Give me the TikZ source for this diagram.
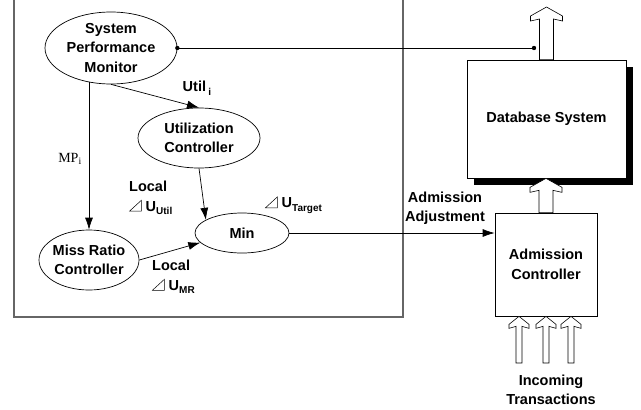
\documentclass[tikz,border=0pt]{standalone}
\usepackage{fontspec}
\setmainfont{Liberation Sans}
\newfontfamily\serifface{Liberation Serif}
\usetikzlibrary{shapes.geometric,arrows.meta,shadows,calc}

\newcommand\lblfont{\bfseries\fontsize{14.5}{19.5}\selectfont}
\newcommand\sbs[1]{\raisebox{-3.5pt}{\fontsize{10}{10}\selectfont #1}}
% small right triangle used as a delta sign
\newcommand\rtri{\tikz[x=1pt,y=1pt,baseline=0pt]\draw[line width=0.5pt,black,line join=miter] (0,0)--(12,0)--(12,11)--cycle;\hspace{4pt}}
% hollow block arrow: base, tip, shaft half width, head half width,
% drop to head corner, drop to head bottom, drop to shaft join
\newcommand\hollowarrow[7]{%
  \draw[hollow] let \p1=#1, \p2=#2 in
    (\x1-#3,\y1) -- (\x1-#3,\y2-#7) -- (\x1-#4,\y2-#6) -- (\x1-#4,\y2-#5) --
    (\x1,\y2) -- (\x1+#4,\y2-#5) -- (\x1+#4,\y2-#6) -- (\x1+#3,\y2-#7) --
    (\x1+#3,\y1) -- cycle;}

\tikzset{
  ell/.style={draw, ellipse, inner sep=-2pt, align=center, line width=0.7pt, font=\lblfont},
  blk/.style={draw, rectangle, inner sep=0pt, align=center, line width=0.7pt, font=\lblfont, fill=white},
  conn/.style={line width=0.7pt, -{Latex[length=12pt,width=8pt]}},
  plainline/.style={line width=0.7pt},
  hollow/.style={draw, fill=white, line width=0.6pt, line join=miter},
  frame/.style={draw=black!60, line width=1.1pt},
  lbl/.style={font=\lblfont, inner sep=0pt},
}

\begin{document}
\begin{tikzpicture}[x=1pt,y=-1pt]
\useasboundingbox (0,0) rectangle (641,410);

% controller enclosure (open at the top)
\draw[frame] (14,0) -- (14,317) -- (403,317) -- (403,0);

% controllers
\node[ell, minimum width=132pt, minimum height=72pt] (spm) at (111,48) {System\\Performance\\Monitor};
\node[ell, minimum width=122pt, minimum height=60pt] (uc) at (199,138) {Utilization\\Controller};
\node[ell, minimum width=94pt, minimum height=40pt] (min) at (242,233) {Min};
\node[ell, minimum width=100pt, minimum height=60pt] (mrc) at (89,260) {Miss Ratio\\Controller};

% system blocks
\node[blk, minimum width=159pt, minimum height=118pt,
      drop shadow={shadow xshift=7pt, shadow yshift=-7pt, fill=black, opacity=1}] (db) at (546.5,119) {Database System};
\node[blk, minimum width=102pt, minimum height=103pt] (adm) at (546,264.5) {Admission\\Controller};

% labels
\node[lbl] (lutili) at (197,88) {Util\,\sbs{i}};
\node[font=\serifface\fontsize{14}{14}\selectfont, inner sep=0pt] (lmp) at (70,159) {MP\textsubscript{i}};
\node[lbl, anchor=west, align=left] (lutil) at (129,198) {Local\\\rtri U\sbs{Util}};
\node[lbl, anchor=west, align=left] (lmr) at (152,277) {Local\\\rtri U\sbs{MR}};
\node[lbl, anchor=west] (ltarget) at (265,205) {\rtri U\sbs{Target}};
\node[lbl, align=center] (ladj) at (445,208) {Admission\\Adjustment};
\node[lbl, align=center] (lin) at (551,390) {Incoming\\Transactions};

% signal connectors
\draw[conn] (spm.south) -- (uc.north);
\draw[conn] ($(mrc.north |- spm.south)+(0,-2)$) -- (mrc.north);
\draw[conn] (uc.south) -- (min.160);
\draw[conn] (mrc.east) -- (min.193);
\draw[conn] (min.east) -- (min.east -| adm.west);

% monitoring tap on the output
\coordinate (tap) at (534,48);
\draw[plainline] (spm.east) -- (tap);
\fill (spm.east) circle (2.2pt);
\fill (tap) circle (2.2pt);

% transaction flow
\coordinate (exit) at (546,7);
\coordinate (in1) at (519,363);
\coordinate (in2) at (546,363);
\coordinate (in3) at (571,363);
\hollowarrow{(db.north)}{(exit)}{7pt}{16pt}{9pt}{14pt}{12pt}
\hollowarrow{(adm.north)}{(db.south)}{7pt}{16pt}{9pt}{14pt}{12pt}
\hollowarrow{(in1)}{(in1 |- adm.south)}{3pt}{10pt}{8pt}{12pt}{10pt}
\hollowarrow{(in2)}{(in2 |- adm.south)}{3pt}{10pt}{8pt}{12pt}{10pt}
\hollowarrow{(in3)}{(in3 |- adm.south)}{3pt}{10pt}{8pt}{12pt}{10pt}
\end{tikzpicture}
\end{document}
